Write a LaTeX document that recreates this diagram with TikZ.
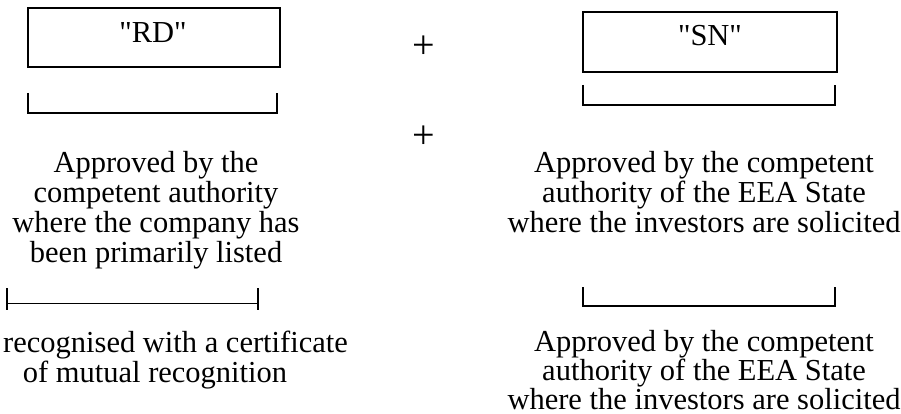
\documentclass[tikz,border=0pt]{standalone}
\usepackage{fontspec}
\setmainfont{Liberation Serif}
\newfontfamily\qfont{Liberation Serif}
\begin{document}
\begin{tikzpicture}[x=1pt,y=-1pt,
  every node/.style={inner sep=0pt, font=\fontsize{30.5}{29.5}\selectfont},
  ln/.style={anchor=base},
  lbl/.style={anchor=base, font=\fontsize{30.5}{29.5}\qfont},
  plussign/.style={font=\fontsize{40}{40}\selectfont},
  boxshape/.style={draw, line width=1.6pt, rectangle},
  brk/.style={draw, line width=1.6pt}]
\useasboundingbox (0,0) rectangle (901,414);
% boxes
\node[boxshape, minimum width=252pt, minimum height=59pt] (rd) at (154,37.5) {};
\node[lbl] (rdt) at (153,43) {"RD"};
\node[boxshape, minimum width=254pt, minimum height=60pt] (sn) at (710,42) {};
\node[lbl] (snt) at (710,46) {"SN"};
% plus signs
\node[plussign] (plusA) at (424,47) {+};
\node[plussign] (plusB) at (424,137) {+};
% brackets
\draw[brk] (28,93) -- (28,113) -- (277,113) -- (277,93);
\draw[brk] (583,85) -- (583,105) -- (835,105) -- (835,85);
\draw[brk] (7,303.5) -- (258,303.5);
\draw[brk] (7,288) -- (7,310);
\draw[brk] (258,288) -- (258,310);
\draw[brk] (583,287) -- (583,306) -- (835,306) -- (835,287);
% left text
\node[ln] (l1) at (156,172) {Approved by the};
\node[ln] (l2) at (156,202) {competent authority};
\node[ln] (l3) at (156,232) {where the company has};
\node[ln] (l4) at (156,262) {been primarily listed};
% right text
\node[ln] (r1) at (704,172) {Approved by the competent};
\node[ln] (r2) at (704,202) {authority of the EEA State};
\node[ln] (r3) at (704,232) {where the investors are solicited};
% bottom left
\node[ln, anchor=base west] (bl1) at (3,352) {recognised with a certificate};
\node[ln] (bl2) at (155,382) {of mutual recognition};
% bottom right
\node[ln] (br1) at (704,351) {Approved by the competent};
\node[ln] (br2) at (704,380) {authority of the EEA State};
\node[ln] (br3) at (704,409) {where the investors are solicited};
\end{tikzpicture}
\end{document}
